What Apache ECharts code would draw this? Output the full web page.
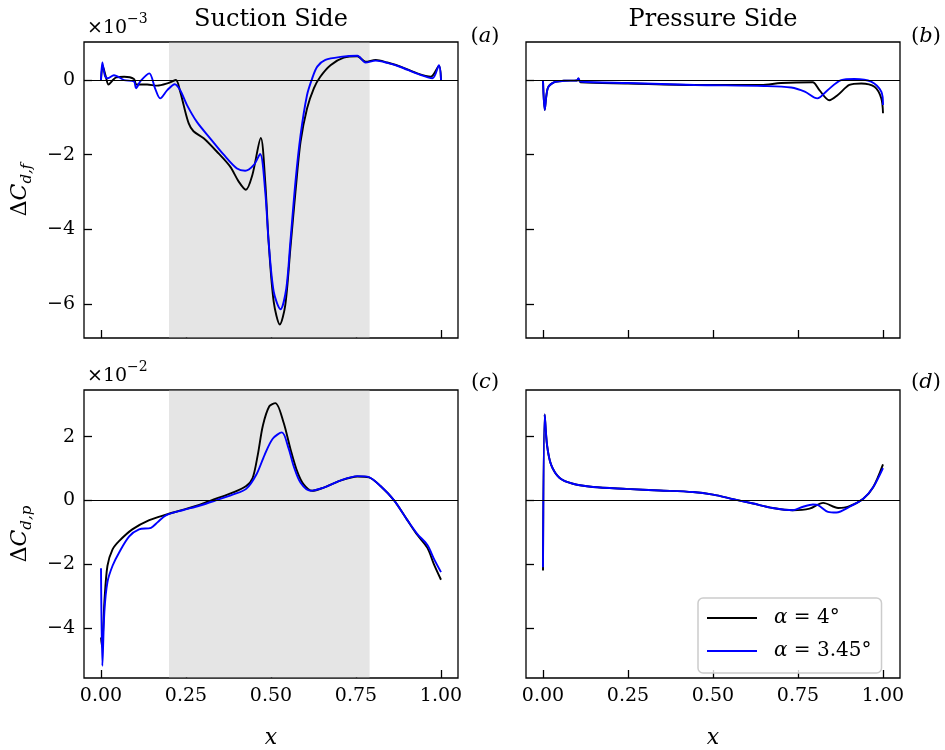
<!DOCTYPE html>
<html>
<head>
<meta charset="utf-8">
<script src="https://cdn.jsdelivr.net/npm/echarts@6/dist/echarts.min.js"></script>
<style>html,body{margin:0;padding:0;background:#fff;}#c{width:945px;height:750px;}</style>
</head>
<body>
<div id="c"></div>
<script>
// ---- Data ----
// (a) Suction side, friction drag difference, units of 1e-3
const sucFricX_4   = [0, 0.005, 0.014, 0.022, 0.035, 0.045, 0.068, 0.097, 0.104, 0.136, 0.165, 0.195, 0.22, 0.233, 0.243, 0.258, 0.272, 0.302, 0.341, 0.38, 0.405, 0.426, 0.445, 0.47, 0.483, 0.493, 0.508, 0.526, 0.542, 0.557, 0.572, 0.587, 0.606, 0.626, 0.645, 0.675, 0.714, 0.754, 0.778, 0.808, 0.842, 0.881, 0.93, 0.97, 0.994, 1.0];
const sucFricY_4   = [0, 0.38, 0.10, -0.12, 0.0, 0.07, 0.09, 0.03, -0.12, -0.12, -0.15, -0.09, 0.0, -0.31, -0.67, -1.16, -1.37, -1.56, -1.92, -2.32, -2.72, -2.94, -2.55, -1.55, -2.72, -4.33, -5.94, -6.55, -6.03, -4.51, -2.99, -1.65, -0.76, -0.22, 0.09, 0.40, 0.60, 0.64, 0.49, 0.54, 0.47, 0.36, 0.18, 0.09, 0.38, 0];
const sucFricX_345 = [0, 0.004, 0.012, 0.02, 0.038, 0.068, 0.097, 0.103, 0.116, 0.142, 0.159, 0.174, 0.195, 0.217, 0.233, 0.253, 0.282, 0.321, 0.361, 0.4, 0.424, 0.449, 0.468, 0.483, 0.493, 0.508, 0.528, 0.545, 0.557, 0.572, 0.587, 0.606, 0.621, 0.636, 0.66, 0.704, 0.754, 0.778, 0.808, 0.842, 0.881, 0.93, 0.975, 0.994, 1.0];
const sucFricY_345 = [0, 0.47, 0.10, 0.05, 0.13, 0.0, -0.04, -0.22, -0.03, 0.18, -0.22, -0.49, -0.27, -0.11, -0.27, -0.67, -1.12, -1.56, -2.0, -2.37, -2.43, -2.28, -1.98, -2.99, -4.33, -5.67, -6.14, -5.58, -4.33, -2.72, -1.47, -0.40, 0.04, 0.36, 0.54, 0.62, 0.65, 0.47, 0.52, 0.46, 0.35, 0.17, 0.05, 0.40, 0];
// (b) Pressure side, friction drag difference, units of 1e-3
const preFricX_4   = [0, 0.005, 0.014, 0.032, 0.061, 0.1, 0.104, 0.11, 0.25, 0.446, 0.642, 0.70, 0.793, 0.813, 0.842, 0.867, 0.901, 0.936, 0.975, 0.995, 1.0];
const preFricY_4   = [0, -0.80, -0.22, -0.06, -0.02, -0.01, 0.04, -0.06, -0.09, -0.13, -0.13, -0.08, -0.06, -0.27, -0.54, -0.40, -0.13, -0.09, -0.18, -0.49, -0.89];
const preFricX_345 = [0, 0.005, 0.014, 0.032, 0.061, 0.1, 0.104, 0.11, 0.25, 0.446, 0.65, 0.73, 0.77, 0.807, 0.837, 0.877, 0.916, 0.965, 0.995, 1.0];
const preFricY_345 = [0, -0.80, -0.22, -0.06, -0.02, -0.01, 0.05, -0.04, -0.08, -0.13, -0.16, -0.20, -0.31, -0.49, -0.27, 0.0, 0.03, -0.04, -0.31, -0.67];
// (c) Suction side, pressure drag difference, units of 1e-2
const sucPresX_4   = [0, 0.003, 0.010, 0.019, 0.034, 0.053, 0.092, 0.142, 0.191, 0.240, 0.289, 0.338, 0.387, 0.427, 0.446, 0.461, 0.476, 0.495, 0.513, 0.537, 0.557, 0.577, 0.596, 0.621, 0.655, 0.704, 0.754, 0.788, 0.822, 0.862, 0.901, 0.930, 0.960, 0.979, 1.0];
const sucPresY_4   = [-4.3, -4.6, -3.17, -2.05, -1.54, -1.28, -0.91, -0.62, -0.45, -0.30, -0.14, 0.05, 0.24, 0.45, 0.70, 1.42, 2.34, 2.95, 3.05, 2.44, 1.62, 0.91, 0.50, 0.30, 0.40, 0.62, 0.75, 0.72, 0.45, 0.0, -0.62, -1.08, -1.49, -2.0, -2.49];
const sucPresX_345 = [0, 0.004, 0.010, 0.019, 0.034, 0.053, 0.083, 0.112, 0.147, 0.166, 0.191, 0.240, 0.289, 0.338, 0.387, 0.427, 0.457, 0.481, 0.505, 0.532, 0.552, 0.567, 0.587, 0.616, 0.655, 0.704, 0.754, 0.788, 0.822, 0.862, 0.901, 0.930, 0.960, 0.980, 1.0];
const sucPresY_345 = [-2.13, -5.19, -3.48, -2.56, -2.05, -1.64, -1.13, -0.91, -0.86, -0.69, -0.47, -0.31, -0.17, 0.0, 0.18, 0.36, 0.81, 1.42, 1.93, 2.13, 1.62, 1.06, 0.55, 0.30, 0.40, 0.62, 0.76, 0.73, 0.45, 0.0, -0.62, -1.05, -1.40, -1.85, -2.25];
// (d) Pressure side, pressure drag difference, units of 1e-2
const prePresX_4   = [0, 0.005, 0.012, 0.024, 0.049, 0.088, 0.147, 0.245, 0.343, 0.441, 0.5, 0.559, 0.618, 0.676, 0.735, 0.784, 0.824, 0.868, 0.898, 0.942, 0.971, 1.0];
const prePresY_4   = [-2.20, 2.69, 1.72, 1.11, 0.70, 0.52, 0.42, 0.36, 0.31, 0.26, 0.18, 0.04, -0.10, -0.24, -0.31, -0.26, -0.08, -0.24, -0.20, 0.05, 0.41, 1.13];
const prePresX_345 = [0, 0.005, 0.012, 0.024, 0.049, 0.088, 0.147, 0.245, 0.343, 0.441, 0.5, 0.559, 0.618, 0.676, 0.735, 0.765, 0.794, 0.809, 0.838, 0.863, 0.902, 0.942, 0.971, 1.0];
const prePresY_345 = [-2.10, 2.69, 1.72, 1.11, 0.70, 0.52, 0.42, 0.36, 0.31, 0.26, 0.18, 0.04, -0.10, -0.24, -0.31, -0.20, -0.13, -0.15, -0.36, -0.38, -0.20, 0.05, 0.41, 1.01];

const xTicks = [0, 0.25, 0.5, 0.75, 1.0];
const yTicksFric = [-6, -4, -2, 0];
const yTicksPres = [-4, -2, 0, 2];
const shadeRange = [0.2, 0.79];
const seriesNames = ['α = 4°', 'α = 3.45°'];
const titles = ['Suction Side', 'Pressure Side'];
const panelTags = ['a', 'b', 'c', 'd'];

// ---- Build chart ----
const FONT = 'DejaVu Serif';
const zip = (xs, ys) => xs.map((x, i) => [x, ys[i]]);
const fmtNum = v => (v < 0 ? '\u2212' + Math.abs(v) : String(v));

const grids = [
  {left: 84, top: 42, width: 374, height: 296},
  {left: 526, top: 42, width: 374, height: 296},
  {left: 84, top: 390, width: 374, height: 295},
  {left: 526, top: 390, width: 374, height: 295}
].map(g => Object.assign({show: true, borderColor: '#000', borderWidth: 1.3, backgroundColor: 'transparent'}, g));

const yRanges = [[-6.91, 1.02], [-6.91, 1.02], [-5.57, 3.46], [-5.57, 3.46]];
const yTickSets = [yTicksFric, yTicksFric, yTicksPres, yTicksPres];
const dataSets = [
  [zip(sucFricX_4, sucFricY_4), zip(sucFricX_345, sucFricY_345)],
  [zip(preFricX_4, preFricY_4), zip(preFricX_345, preFricY_345)],
  [zip(sucPresX_4, sucPresY_4), zip(sucPresX_345, sucPresY_345)],
  [zip(prePresX_4, prePresY_4), zip(prePresX_345, prePresY_345)]
];

const tickStyle = {show: true, inside: true, length: 8, lineStyle: {color: '#000', width: 1.3}};
const labelStyle = {color: '#000', fontFamily: FONT, fontSize: 19};

const xAxes = grids.map((g, i) => ({
  type: 'value', gridIndex: i, min: -0.05, max: 1.05, position: 'bottom',
  axisLine: {show: false, onZero: false}, splitLine: {show: false},
  axisTick: Object.assign({customValues: xTicks}, tickStyle),
  axisLabel: Object.assign({show: i >= 2, customValues: xTicks, margin: 9, formatter: v => v.toFixed(2)}, labelStyle),
  name: i >= 2 ? 'x' : '', nameLocation: 'middle', nameGap: 49,
  nameTextStyle: {fontFamily: FONT, fontStyle: 'italic', fontSize: 22, color: '#000'}
}));

const yNameRich = {
  d: {fontFamily: FONT, fontSize: 22, color: '#000', lineHeight: 30, verticalAlign: 'middle'},
  c: {fontFamily: FONT, fontSize: 22, fontStyle: 'italic', color: '#000', lineHeight: 30, verticalAlign: 'middle'},
  s: {fontFamily: FONT, fontSize: 15, fontStyle: 'italic', color: '#000', lineHeight: 30, verticalAlign: 'bottom'}
};
const yAxes = grids.map((g, i) => ({
  type: 'value', gridIndex: i, min: yRanges[i][0], max: yRanges[i][1], position: 'left',
  axisLine: {show: false, onZero: false}, splitLine: {show: false},
  axisTick: Object.assign({customValues: yTickSets[i]}, tickStyle),
  axisLabel: Object.assign({show: i % 2 === 0, customValues: yTickSets[i], margin: 9, formatter: fmtNum}, labelStyle),
  name: i === 0 ? '{d|Δ}{c|C}{s|d,f}' : (i === 2 ? '{d|Δ}{c|C}{s|d,p}' : ''),
  nameLocation: 'middle', nameRotate: 90, nameGap: 49,
  nameTextStyle: {rich: yNameRich}
}));

const series = [];
dataSets.forEach((pair, i) => {
  const bg = {
    type: 'line', xAxisIndex: i, yAxisIndex: i, data: [[0, 0]], symbol: 'none', silent: true,
    lineStyle: {opacity: 0}, z: 1,
    markLine: {silent: true, symbol: 'none', label: {show: false},
      lineStyle: {color: '#000', width: 1, type: 'solid'}, data: [{yAxis: 0}], animation: false}
  };
  if (i % 2 === 0) {
    const yr = yRanges[i];
    bg.markArea = {silent: true, itemStyle: {color: '#e5e5e5'},
      data: [[{xAxis: shadeRange[0], yAxis: yr[0] + 0.02}, {xAxis: shadeRange[1], yAxis: yr[1] - 0.02}]]};
  }
  series.push(bg);
  ['#000000', '#0000ff'].forEach((col, k) => {
    series.push({
      type: 'line', name: seriesNames[k], xAxisIndex: i, yAxisIndex: i, data: pair[k],
      symbol: 'none', smooth: 0.3, z: 3 + (k === 1 ? 1 : 0),
      lineStyle: {color: col, width: 1.9}, itemStyle: {color: col}
    });
  });
});

const graphics = [];
const mkText = (x, y, text, size, align, extra) => graphics.push({
  type: 'text', x: x, y: y, silent: true,
  style: Object.assign({text: text, fill: '#000', font: size + 'px "' + FONT + '"', textAlign: align || 'center', textVerticalAlign: 'middle'}, extra || {})
});
mkText(271, 20, titles[0], 24);
mkText(713, 20, titles[1], 24);
const tagRich = {
  p: {fontFamily: FONT, fontSize: 21, fill: '#000'},
  i: {fontFamily: FONT, fontSize: 21, fontStyle: 'italic', fill: '#000'}
};
const tagPos = [[485, 37], [926, 37], [485, 383], [926, 383]];
panelTags.forEach((t, i) => {
  graphics.push({type: 'text', x: tagPos[i][0], y: tagPos[i][1], silent: true,
    style: {text: '{p|(}{i|' + t + '}{p|)}', rich: tagRich, textAlign: 'center', textVerticalAlign: 'middle'}});
});
const expRich = {
  b: {fontFamily: FONT, fontSize: 19, fill: '#000', lineHeight: 25, verticalAlign: 'bottom'},
  e: {fontFamily: FONT, fontSize: 14, fill: '#000', lineHeight: 25, verticalAlign: 'top'}
};
graphics.push({type: 'text', x: 87, y: 25, silent: true,
  style: {text: '{b|×10}{e|\u22123}', rich: expRich, textAlign: 'left', textVerticalAlign: 'middle'}});
graphics.push({type: 'text', x: 87, y: 373, silent: true,
  style: {text: '{b|×10}{e|\u22122}', rich: expRich, textAlign: 'left', textVerticalAlign: 'middle'}});

const option = {
  animation: false,
  backgroundColor: '#fff',
  grid: grids,
  xAxis: xAxes,
  yAxis: yAxes,
  series: series,
  legend: {
    data: seriesNames, orient: 'vertical', left: 698, top: 598,
    padding: [9, 10, 11, 9], itemGap: 11, itemWidth: 50, itemHeight: 2, icon: 'rect',
    backgroundColor: 'rgba(255,255,255,0.8)', borderColor: '#cccccc', borderWidth: 1.5, borderRadius: 5,
    formatter: name => '{i|α}{r|' + name.slice(1) + '}',
    textStyle: {padding: [0, 0, 0, 12], lineHeight: 22, rich: {
      i: {fontFamily: FONT, fontSize: 20, fontStyle: 'italic', color: '#000', lineHeight: 22},
      r: {fontFamily: FONT, fontSize: 20, color: '#000', lineHeight: 22}
    }}
  },
  graphic: graphics
};
const chart = echarts.init(document.getElementById('c'), null, {renderer: 'canvas'});
chart.setOption(option);
</script>
</body>
</html>
